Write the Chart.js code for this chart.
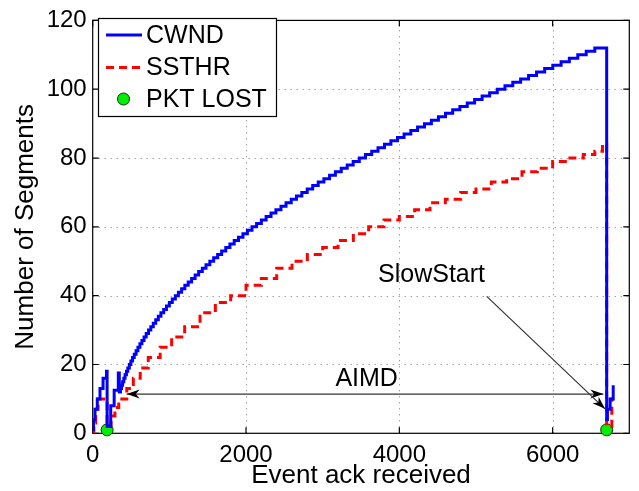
<!DOCTYPE html>
<html>
<head>
<meta charset="utf-8">
<script src="https://cdn.jsdelivr.net/npm/chart.js@4.4.1/dist/chart.umd.min.js"></script>
<style>
  html, body { margin: 0; padding: 0; background: #fff; }
  #wrap { width: 639px; height: 491px; }
</style>
</head>
<body>
<div id="wrap"><canvas id="c" width="639" height="491"></canvas></div>
<script>
// ---------- data
// CWND: slow start, two losses, then one segment per step (x where each level starts)
const cwndX = [0, 10, 30, 60, 95, 135, 180, 188, 235, 280, 334, 347,
  350, 362, 376, 390, 406, 422, 440, 458, 478, 498, 520, 542, 566, 590, 616, 642, 670, 698, 728, 758,
  790, 822, 856, 890, 926, 962, 1000, 1038, 1078, 1118, 1160, 1202, 1246, 1290, 1336, 1382, 1430, 1478,
  1528, 1578, 1630, 1682, 1736, 1790, 1846, 1902, 1960, 2018, 2078, 2138, 2200, 2262, 2326, 2390, 2456,
  2522, 2590, 2658, 2728, 2798, 2870, 2942, 3016, 3090, 3166, 3242, 3320, 3398, 3478, 3558, 3640, 3722,
  3806, 3890, 3976, 4062, 4150, 4238, 4328, 4418, 4510, 4602, 4696, 4790, 4886, 4982, 5080, 5178, 5278,
  5378, 5480, 5582, 5686, 5790, 5896, 6002, 6110, 6218, 6328, 6438, 6550,
  6705, 6715, 6750, 6790];
const cwndY = [1, 4, 7, 10, 13, 16, 18, 2, 8, 12.5, 17.5, 12,
  12, 13, 14, 15, 16, 17, 18, 19, 20, 21, 22, 23, 24, 25, 26, 27, 28, 29, 30, 31,
  32, 33, 34, 35, 36, 37, 38, 39, 40, 41, 42, 43, 44, 45, 46, 47, 48, 49,
  50, 51, 52, 53, 54, 55, 56, 57, 58, 59, 60, 61, 62, 63, 64, 65, 66,
  67, 68, 69, 70, 71, 72, 73, 74, 75, 76, 77, 78, 79, 80, 81, 82, 83,
  84, 85, 86, 87, 88, 89, 90, 91, 92, 93, 94, 95, 96, 97, 98, 99, 100,
  101, 102, 103, 104, 105, 106, 107, 108, 109, 110, 111, 112,
  4, 7, 10, 14];

const ssthX = [0, 15, 40, 70, 188, 240, 290, 340, 380, 445, 530, 620, 725, 880, 1030, 1200, 1400, 1600, 1800, 2000,
  2200, 2400, 2600, 2800, 3000, 3200, 3400, 3600, 3800, 4000, 4200, 4400, 4600, 4800, 5000, 5200, 5400, 5600, 5800,
  6000, 6200, 6400, 6550, 6650, 6705, 6772, 6800];
const ssthY = [0, 3, 7, 10, 2, 5, 7.5, 9, 10, 13, 16, 19, 22, 25, 28, 31, 35, 38, 40, 43,
  45, 48, 50, 52, 54, 56, 58, 60, 62, 63, 65, 67, 68, 70, 71, 73, 74, 76, 77,
  79, 80, 81, 82, 84, 2, 10, 10];

const lossX = [188, 6705];
const lossY = [1, 1];

const xTicks = [0, 2000, 4000, 6000];
const yTicks = [0, 20, 40, 60, 80, 100, 120];

const FONT = '"Liberation Sans", Arial, Helvetica, sans-serif';
const pts = (xs, ys) => xs.map((x, i) => ({ x, y: ys[i] }));

// ---------- grid, frame, inward ticks, legend and arrows (matlab look)
function arrowHead(ctx, x0, y0, x1, y1) {
  const a = Math.atan2(y1 - y0, x1 - x0);
  const L = 13, W = 4.5;
  const bx = x1 - L * Math.cos(a), by = y1 - L * Math.sin(a);
  const mx = x1 - L * 0.7 * Math.cos(a), my = y1 - L * 0.7 * Math.sin(a);
  ctx.beginPath();
  ctx.moveTo(x1, y1);
  ctx.lineTo(bx - W * Math.sin(a), by + W * Math.cos(a));
  ctx.lineTo(mx, my);
  ctx.lineTo(bx + W * Math.sin(a), by - W * Math.cos(a));
  ctx.closePath();
  ctx.fill();
}

const decor = {
  id: 'decor',
  beforeDatasetsDraw(chart) {
    const { ctx, chartArea: a, scales: { x, y } } = chart;
    ctx.save();
    // dotted grid
    ctx.strokeStyle = '#7a7a7a';
    ctx.lineWidth = 1;
    ctx.setLineDash([1, 5]);
    ctx.beginPath();
    xTicks.forEach(v => {
      if (v === 0) return;
      const px = Math.round(x.getPixelForValue(v)) + 0.5;
      ctx.moveTo(px, a.bottom); ctx.lineTo(px, a.top);
    });
    yTicks.forEach(v => {
      if (v === 0 || v === 120) return;
      const py = Math.round(y.getPixelForValue(v)) + 0.5;
      ctx.moveTo(a.left, py); ctx.lineTo(a.right, py);
    });
    ctx.stroke();
    ctx.setLineDash([]);
    // box and inward ticks
    ctx.strokeStyle = '#000';
    ctx.lineWidth = 1.2;
    ctx.strokeRect(a.left, a.top, a.right - a.left, a.bottom - a.top);
    ctx.beginPath();
    xTicks.forEach(v => {
      const px = x.getPixelForValue(v);
      ctx.moveTo(px, a.bottom); ctx.lineTo(px, a.bottom - 6);
      ctx.moveTo(px, a.top); ctx.lineTo(px, a.top + 6);
    });
    yTicks.forEach(v => {
      const py = y.getPixelForValue(v);
      ctx.moveTo(a.left, py); ctx.lineTo(a.left + 6, py);
      ctx.moveTo(a.right, py); ctx.lineTo(a.right - 6, py);
    });
    ctx.stroke();
    ctx.restore();
  },
  afterDraw(chart) {
    const { ctx, scales: { x, y } } = chart;
    const X = v => x.getPixelForValue(v), Y = v => y.getPixelForValue(v);
    ctx.save();

    // annotations
    ctx.strokeStyle = '#333';
    ctx.fillStyle = '#000';
    ctx.lineWidth = 1.2;
    ctx.beginPath();
    ctx.moveTo(X(443), Y(11.4)); ctx.lineTo(X(6661), Y(11.4));
    ctx.stroke();
    arrowHead(ctx, X(6661), Y(11.4), X(443), Y(11.4));
    arrowHead(ctx, X(443), Y(11.4), X(6661), Y(11.4));
    ctx.beginPath();
    ctx.moveTo(X(5140), Y(39.8)); ctx.lineTo(X(6683), Y(7.1));
    ctx.stroke();
    arrowHead(ctx, X(5140), Y(39.8), X(6683), Y(7.1));

    ctx.font = '25px ' + FONT;
    ctx.textBaseline = 'alphabetic';
    ctx.textAlign = 'center';
    ctx.fillText('AIMD', X(3574), Y(13.8));
    ctx.textAlign = 'right';
    ctx.fillText('SlowStart', X(5118), Y(44));

    // legend
    const lx = 98.5, ly = 18.5, lw = 178, lh = 98;
    ctx.fillStyle = '#fff';
    ctx.fillRect(lx, ly, lw, lh);
    ctx.strokeStyle = '#000';
    ctx.lineWidth = 1.2;
    ctx.strokeRect(lx, ly, lw, lh);
    const ds = chart.data.datasets;
    const rows = [35, 67.5, 99];
    ctx.textAlign = 'left';
    ctx.textBaseline = 'middle';
    ctx.font = '25px ' + FONT;
    ds.forEach((d, i) => {
      const ry = rows[i];
      if (d.showLine === false) {
        ctx.beginPath();
        ctx.arc(123.5, ry, 6, 0, Math.PI * 2);
        ctx.fillStyle = d.pointBackgroundColor;
        ctx.fill();
        ctx.strokeStyle = d.pointBorderColor;
        ctx.lineWidth = 1;
        ctx.stroke();
      } else {
        ctx.beginPath();
        ctx.strokeStyle = d.borderColor;
        ctx.lineWidth = d.borderWidth;
        ctx.setLineDash(d.borderDash || []);
        ctx.moveTo(106, ry); ctx.lineTo(142, ry);
        ctx.stroke();
        ctx.setLineDash([]);
      }
      ctx.fillStyle = '#000';
      ctx.fillText(d.label, 146, ry + 1);
    });
    ctx.restore();
  }
};

new Chart(document.getElementById('c'), {
  type: 'line',
  data: {
    datasets: [
      { label: 'CWND', data: pts(cwndX, cwndY), borderColor: '#0000ff', borderWidth: 3,
        stepped: true, pointRadius: 0, fill: false },
      { label: 'SSTHR', data: pts(ssthX, ssthY), borderColor: '#ff0000', borderWidth: 3,
        borderDash: [8, 5], stepped: true, pointRadius: 0, fill: false },
      { label: 'PKT LOST', data: pts(lossX, lossY), showLine: false, pointRadius: 6,
        pointBackgroundColor: '#00ee00', pointBorderColor: '#0a3a0a', pointBorderWidth: 1, clip: false }
    ]
  },
  options: {
    responsive: false,
    animation: false,
    events: [],
    layout: { padding: { left: 0, right: 9.7, top: 13.5, bottom: 0 } },
    plugins: { legend: { display: false }, tooltip: { enabled: false } },
    scales: {
      x: {
        type: 'linear', min: 0, max: 7000,
        afterBuildTicks: s => { s.ticks = xTicks.map(v => ({ value: v })); },
        ticks: { maxRotation: 0, autoSkip: false, color: '#000', padding: 8,
          font: { size: 24, family: FONT }, callback: v => String(v) },
        grid: { display: false, drawTicks: false },
        border: { display: false },
        title: { display: true, text: 'Event ack received', color: '#000',
          font: { size: 26, family: FONT, lineHeight: 1 }, padding: { top: 0, bottom: 2 } },
        afterFit: s => { s.height = 57.7; }
      },
      y: {
        min: 0, max: 120,
        afterBuildTicks: s => { s.ticks = yTicks.map(v => ({ value: v })); },
        ticks: { color: '#000', padding: 6, font: { size: 24, family: FONT }, callback: v => String(v) },
        grid: { display: false, drawTicks: false },
        border: { display: false },
        title: { display: true, text: 'Number of Segments', color: '#000',
          font: { size: 26, family: FONT }, padding: { top: 10, bottom: 0 } },
        afterFit: s => { s.width = 92.7; }
      }
    }
  },
  plugins: [decor]
});
</script>
</body>
</html>
